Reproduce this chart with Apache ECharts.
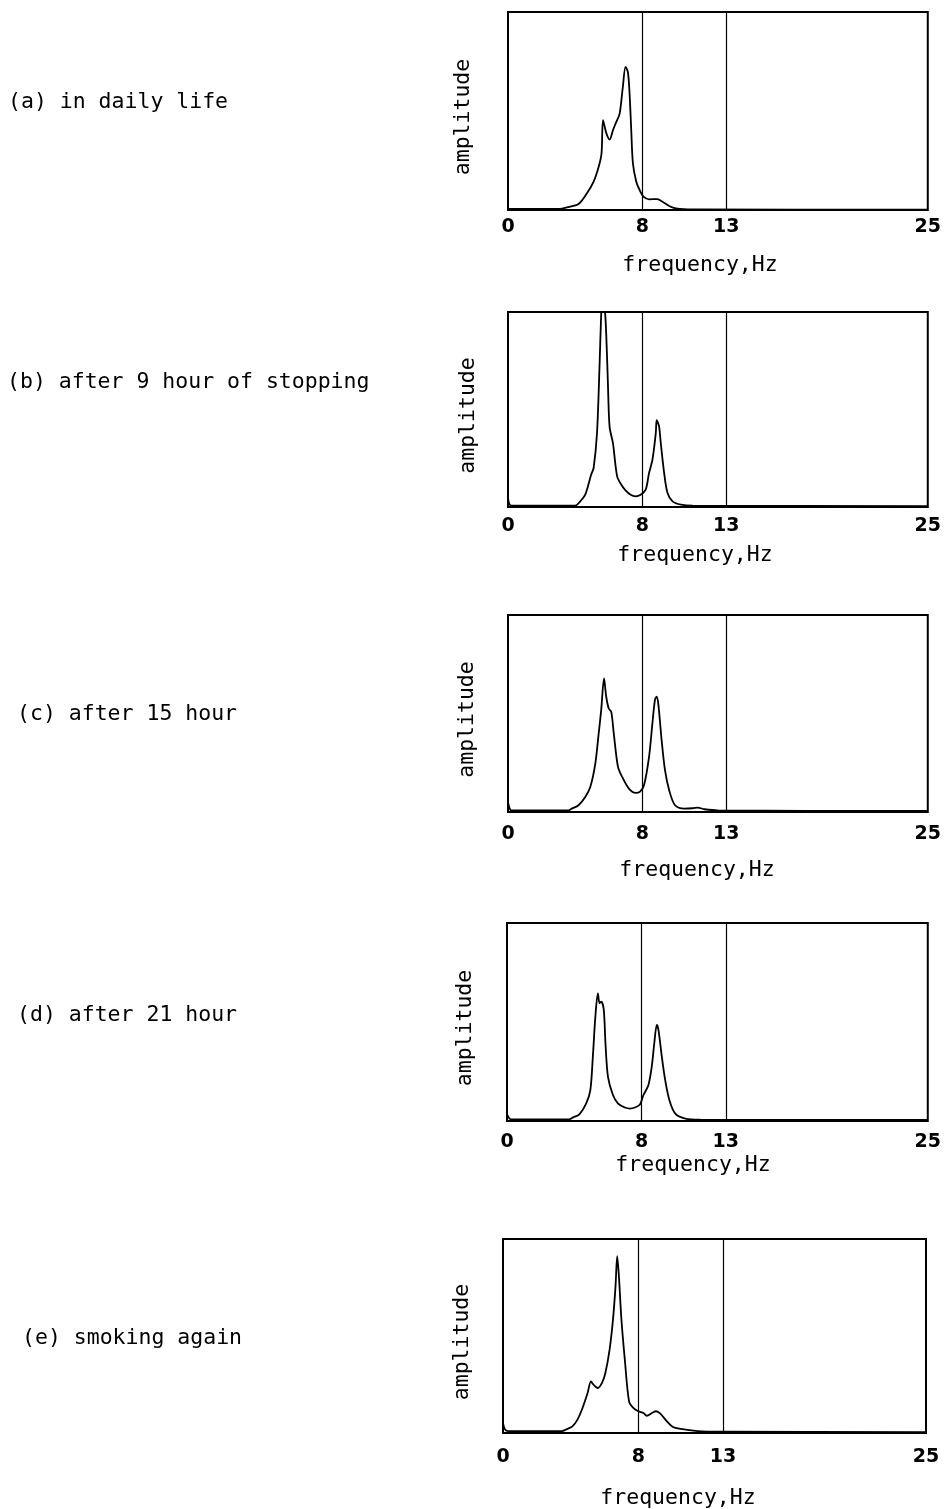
<!DOCTYPE html>
<html>
<head>
<meta charset="utf-8">
<title>EEG spectra after stopping smoking</title>
<script src="https://cdn.jsdelivr.net/npm/echarts@6/dist/echarts.min.js"></script>
<style>
  html, body { margin: 0; padding: 0; background: #fff; }
  #chart { width: 944px; height: 1509px; }
</style>
</head>
<body>
<div id="chart"></div>
<script>
// x ticks and the alpha-band edges (Hz)
var xTicks = [0, 8, 13, 25];
var bandEdges = [8, 13];

var panelLabels = [
  "(a) in daily life",
  "(b) after 9 hour of stopping",
  "(c) after 15 hour",
  "(d) after 21 hour",
  "(e) smoking again"
];

// amplitude, in % of the box height
var freqA = [0, 2, 3.1, 3.5, 4.2, 4.7, 5.1, 5.4, 5.57, 5.66, 5.86, 6.06, 6.25, 6.45, 6.65, 6.84, 7.0, 7.14, 7.24, 7.34, 7.44, 7.64, 7.84, 8.07, 8.4, 8.9, 9.2, 9.6, 10.0, 11, 25];
var ampA  = [0.5, 0.5, 0.5, 1.3, 3.0, 8.4, 14.3, 21.8, 28.6, 45.4, 38.7, 35.6, 40.3, 44.5, 48.7, 62.2, 72.3, 69.7, 58.8, 40.3, 23.5, 14.3, 10.1, 6.7, 5.4, 5.5, 4.2, 2.0, 0.8, 0.3, 0.2];

var freqB = [0, 0.1, 0.3, 4.0, 4.3, 4.6, 4.95, 5.1, 5.3, 5.45, 5.55, 5.6, 5.75, 5.85, 5.95, 6.05, 6.25, 6.5, 6.75, 7.0, 7.3, 7.6, 7.9, 8.2, 8.4, 8.6, 8.8, 8.85, 8.9, 9.0, 9.1, 9.3, 9.5, 9.8, 10.3, 11, 25];
var ampB  = [4.6, 1.2, 0.7, 0.7, 2.9, 6.3, 16.5, 20, 37.8, 71.9, 99, 104, 102, 88.6, 63.4, 41.2, 32.7, 15.7, 11.4, 8.5, 6.3, 5.5, 6.3, 8.9, 17.4, 24.2, 37.8, 44.6, 43.8, 41.2, 32.7, 17.4, 7.2, 2.9, 1.2, 0.7, 0.5];

var freqC = [0, 0.15, 0.3, 3.6, 3.8, 4.2, 4.6, 4.9, 5.2, 5.4, 5.55, 5.72, 5.85, 6.0, 6.15, 6.3, 6.55, 6.8, 7.2, 7.6, 7.85, 8.1, 8.4, 8.6, 8.75, 8.85, 8.95, 9.15, 9.35, 9.6, 9.95, 10.5, 11, 11.3, 11.7, 12.5, 25];
var ampC  = [5, 1, 0.8, 0.8, 1.7, 3.4, 7.6, 12.7, 24.6, 39.8, 51.7, 67.8, 58.5, 52.5, 50.8, 39.8, 22.9, 17.8, 11.9, 9.7, 10.2, 13.6, 28, 45, 56.8, 58.5, 55, 36.4, 21.2, 11, 3.4, 1.7, 1.9, 2.2, 1.4, 0.8, 0.5];

var freqD = [0, 0.15, 0.3, 3.7, 3.9, 4.3, 4.7, 4.95, 5.1, 5.25, 5.4, 5.5, 5.6, 5.75, 5.85, 6.0, 6.3, 6.6, 7.0, 7.3, 7.6, 7.9, 8.1, 8.4, 8.6, 8.75, 8.9, 9.0, 9.2, 9.4, 9.65, 10, 10.6, 11.5, 25];
var ampD  = [3.4, 1.2, 0.8, 0.8, 1.7, 3.4, 8.8, 15.5, 32.4, 52.7, 64.5, 59.5, 60.3, 56.1, 39.2, 22.3, 13, 8.8, 6.8, 6.3, 6.8, 8.3, 13, 18.1, 27.4, 39.2, 48.5, 45.9, 32.4, 20.6, 10.5, 3.7, 1.2, 0.7, 0.5];

var freqE = [0, 0.1, 0.3, 3.5, 3.7, 4.1, 4.4, 4.7, 5.0, 5.2, 5.35, 5.6, 5.85, 6.05, 6.3, 6.5, 6.65, 6.75, 6.85, 7.0, 7.2, 7.45, 7.7, 8.0, 8.3, 8.5, 8.8, 9.05, 9.3, 9.6, 10.0, 10.5, 11.5, 13, 25];
var ampE  = [5.2, 2.1, 1.0, 1.0, 1.7, 3.4, 6.9, 12.9, 20.6, 26.6, 24.9, 23.2, 25.8, 30.9, 43, 58.4, 75.6, 91.1, 80.8, 58.4, 37.8, 16.3, 12.9, 11.2, 10.3, 8.9, 10.3, 11.2, 10, 6.9, 3.4, 2.1, 1, 0.7, 0.5];

var freqs = [freqA, freqB, freqC, freqD, freqE];
var amps = [ampA, ampB, ampC, ampD, ampE];

// box placement of each panel, in page pixels
var boxes = [
  { left: 508, top: 12,   width: 422, height: 198, labelY: 102,  tickGap: 8,  freqX: 700, freqY: 265,  ampX: 463 },
  { left: 508, top: 312,  width: 424, height: 195, labelY: 382,  tickGap: 10, freqX: 695, freqY: 555,  ampX: 468 },
  { left: 508, top: 615,  width: 424, height: 197, labelY: 714,  tickGap: 13, freqX: 697, freqY: 870,  ampX: 467 },
  { left: 507, top: 923,  width: 424, height: 198, labelY: 1015, tickGap: 12, freqX: 693, freqY: 1165, ampX: 465 },
  { left: 503, top: 1239, width: 423, height: 194, labelY: 1338, tickGap: 15, freqX: 678, freqY: 1498, ampX: 462 }
];
var labelXs = [8, 7, 17, 17, 22];

var MONO = "'DejaVu Sans Mono', monospace";

var grids = [], xAxes = [], yAxes = [], series = [], graphics = [];

boxes.forEach(function (b, i) {
  grids.push({
    left: b.left, top: b.top, width: b.width, height: b.height,
    show: true, borderColor: "#000", borderWidth: 2, backgroundColor: "transparent"
  });
  xAxes.push({
    type: "value", gridIndex: i, min: 0, max: 25,
    axisLine: { show: false }, axisTick: { show: false }, splitLine: { show: false },
    axisLabel: {
      customValues: xTicks, margin: b.tickGap, color: "#000",
      fontFamily: "'DejaVu Sans', sans-serif", fontSize: 19, fontWeight: "bold"
    }
  });
  yAxes.push({
    type: "value", gridIndex: i, min: 0, max: 100,
    axisLine: { show: false }, axisTick: { show: false }, splitLine: { show: false },
    axisLabel: { show: false }
  });
  series.push({
    type: "line", xAxisIndex: i, yAxisIndex: i,
    data: freqs[i].map(function (f, k) { return [f, amps[i][k]]; }),
    showSymbol: false, smooth: 0.3, clip: true,
    lineStyle: { color: "#000", width: 1.8 },
    markLine: {
      silent: true, symbol: "none", label: { show: false },
      lineStyle: { color: "#000", width: 1.2, type: "solid" },
      data: bandEdges.map(function (e) { return { xAxis: e }; })
    }
  });

  graphics.push({
    type: "text", x: labelXs[i], y: b.labelY,
    style: { text: panelLabels[i], fill: "#000", font: "21.5px " + MONO, align: "left", verticalAlign: "middle" }
  });
  graphics.push({
    type: "text", x: b.ampX, y: b.top + b.height / 2 + 6, rotation: Math.PI / 2,
    style: { text: "amplitude", fill: "#000", font: "21.5px " + MONO, align: "center", verticalAlign: "middle" }
  });
  graphics.push({
    type: "text", x: b.freqX, y: b.freqY,
    style: { text: "frequency,Hz", fill: "#000", font: "21.5px " + MONO, align: "center", verticalAlign: "middle" }
  });
});

var chart = echarts.init(document.getElementById("chart"), null, { renderer: "canvas" });
chart.setOption({
  animation: false,
  backgroundColor: "#fff",
  grid: grids,
  xAxis: xAxes,
  yAxis: yAxes,
  series: series,
  graphic: graphics
});
</script>
</body>
</html>
